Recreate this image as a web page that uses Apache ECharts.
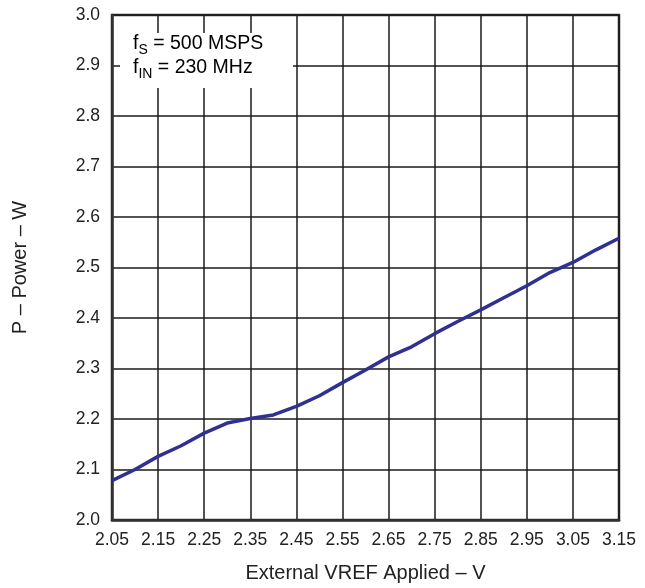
<!DOCTYPE html>
<html>
<head>
<meta charset="utf-8">
<script src="https://cdn.jsdelivr.net/npm/echarts@6/dist/echarts.min.js"></script>
<style>
  html, body { margin: 0; padding: 0; background: #fff; }
  #chart { width: 645px; height: 588px; }
</style>
</head>
<body>
<div id="chart"></div>
<script>
// external VREF (V) vs power (W)
const vref = [2.05, 2.10, 2.15, 2.20, 2.25, 2.30, 2.35, 2.40, 2.45, 2.50, 2.55, 2.60,
  2.65, 2.70, 2.75, 2.80, 2.85, 2.90, 2.95, 3.00, 3.05, 3.10, 3.15]
const power = [2.078, 2.100, 2.126, 2.147, 2.172, 2.192, 2.201, 2.208, 2.225, 2.246, 2.272, 2.297,
  2.323, 2.343, 2.369, 2.393, 2.416, 2.440, 2.464, 2.490, 2.510, 2.535, 2.558]

const font = 'Liberation Sans, Arial, Helvetica, sans-serif'
const c = echarts.init(document.getElementById('chart'))

const points = vref.map((v, i) => [v, power[i]])

c.setOption({
  animation: false,
  grid: {
    left: 112, right: 26, top: 15, bottom: 67,
    show: true, borderColor: '#333', borderWidth: 2.5
  },
  xAxis: {
    type: 'value',
    min: 2.05, max: 3.15, interval: 0.1,
    name: 'External VREF Applied – V',
    nameLocation: 'middle', nameGap: 43,
    nameTextStyle: { fontFamily: font, fontSize: 20, color: '#222' },
    axisLine: { show: true, lineStyle: { color: '#333', width: 2.5 } },
    axisTick: { show: false },
    axisLabel: {
      fontFamily: font, fontSize: 17.5, color: '#222', margin: 11,
      formatter: v => v.toFixed(2)
    },
    splitLine: { show: true, lineStyle: { color: '#1a1a1a', width: 1.5 } }
  },
  yAxis: {
    type: 'value',
    min: 2.0, max: 3.0, interval: 0.1,
    name: 'P – Power – W',
    nameLocation: 'middle', nameGap: 82,
    nameTextStyle: { fontFamily: font, fontSize: 20, color: '#222' },
    axisLine: { show: true, lineStyle: { color: '#333', width: 2.5 } },
    axisTick: { show: false },
    axisLabel: {
      fontFamily: font, fontSize: 17.5, color: '#222', margin: 12,
      formatter: v => v.toFixed(1)
    },
    splitLine: { show: true, lineStyle: { color: '#1a1a1a', width: 1.5 } }
  },
  series: [{
    type: 'line',
    data: points,
    showSymbol: false,
    smooth: false,
    lineStyle: { color: '#2e3192', width: 3.5 },
    z: 5
  }],
  graphic: [
    {
      type: 'rect', z: 50,
      shape: { x: 120, y: 33, width: 173, height: 55 },
      style: { fill: '#fff' }
    },
    {
      type: 'text', z: 51, left: 133, top: 34,
      style: {
        text: '{b|f}{s|S}{b| = 500 MSPS}\n{b|f}{s|IN}{b| = 230 MHz}',
        rich: {
          b: { fontFamily: font, fontSize: 19.5, color: '#222', lineHeight: 24, verticalAlign: 'top' },
          s: { fontFamily: font, fontSize: 14, color: '#222', lineHeight: 24, padding: [8, 0, 0, 0] }
        }
      }
    }
  ]
})
</script>
</body>
</html>
